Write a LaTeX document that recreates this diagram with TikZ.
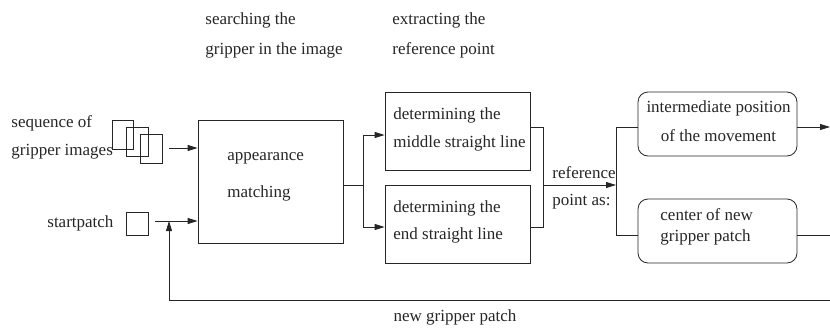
\documentclass[tikz,border=0pt]{standalone}
\usepackage{fontspec}
\setmainfont{Liberation Serif}
\usetikzlibrary{arrows.meta}
\begin{document}
\begin{tikzpicture}[x=1pt,y=-1pt,line width=0.8pt,draw=black!85,
  txt/.style={anchor=west,inner sep=0pt,font=\fontsize{17}{19}\selectfont,text=black!85},
  ctxt/.style={inner sep=0pt,font=\fontsize{17}{19}\selectfont,text=black!85},
  box/.style={draw,inner sep=0pt},
  rbox/.style={draw,inner sep=0pt,rounded corners=10pt},
  arr/.style={-{Triangle[length=10pt,width=6pt]}}]
\useasboundingbox (0,0) rectangle (830,327);

% headings
\node[txt] (h1a) at (205,20) {searching the};
\node[txt] (h1b) at (205,50) {gripper in the image};
\node[txt] (h2a) at (392,20) {extracting the};
\node[txt] (h2b) at (392,50) {reference point};

% inputs
\node[txt] (seqa) at (11,123) {sequence of};
\node[txt] (seqb) at (11,152) {gripper images};
\draw (112,120) rectangle (133,149);
\draw (126,127) rectangle (148,156);
\draw (140,134) rectangle (162,163);
\node[txt] (sp) at (47,223) {startpatch};
\draw (126,212) rectangle (148,235);

% boxes
\node[box,minimum width=145pt,minimum height=123pt] (am) at (270.5,181.5) {};
\node[txt] (ama) at (227,158) {appearance};
\node[txt] (amb) at (227,193) {matching};

\node[box,minimum width=145pt,minimum height=78pt] (mid) at (457.5,131) {};
\node[txt] (mida) at (393,115) {determining the};
\node[txt] (midb) at (393,143) {middle straight line};

\node[box,minimum width=145pt,minimum height=78pt] (end) at (457.5,224) {};
\node[txt] (enda) at (393,208) {determining the};
\node[txt] (endb) at (393,235) {end straight line};

\node[rbox,minimum width=159pt,minimum height=64pt] (ip) at (717.5,124) {};
\node[ctxt] (ipa) at (718.5,108) {intermediate position};
\node[ctxt] (ipb) at (718.5,136) {of the movement};

\node[rbox,minimum width=159pt,minimum height=64pt] (cn) at (717.5,231) {};
\node[txt] (cna) at (660,215) {center of new};
\node[txt] (cnb) at (660,237) {gripper patch};

\node[txt] (rpa) at (552,173) {reference};
\node[txt] (rpb) at (552,202) {point as:};

\node[ctxt] (ngp) at (455,317) {new gripper patch};

% coordinates
\coordinate (in1) at (169,148);
\coordinate (in2) at (155,221);
\coordinate (j1) at (363,185);
\coordinate (j1a) at (363,135);
\coordinate (j1b) at (363,227);
\coordinate (j2a) at (543,127);
\coordinate (j2b) at (543,227);
\coordinate (j2) at (543,185);
\coordinate (j3) at (616,185);
\coordinate (j3a) at (616,127);
\coordinate (j3b) at (616,235);
\coordinate (out1) at (830,127);
\coordinate (out2) at (834,235);
\coordinate (fb1) at (834,300);
\coordinate (fb2) at (169,300);
\coordinate (fb3) at (169,221);

% connectors
\draw[arr] (in1) -- (am.west |- in1);
\draw[arr] (in2) -- (am.west |- in2);
\draw (am.east |- j1) -- (j1);
\draw[arr] (j1) -- (j1a) -- (mid.west |- j1a);
\draw[arr] (j1) -- (j1b) -- (end.west |- j1b);
\draw (mid.east |- j2a) -- (j2a) -- (j2b) -- (end.east |- j2b);
\draw[arr] (j2) -- (j3);
\draw (ip.west |- j3a) -- (j3a) -- (j3b) -- (cn.west |- j3b);
\draw[arr] (ip.east |- out1) -- (out1);
\draw[arr] (cn.east |- out2) -- (out2) -- (fb1) -- (fb2) -- (fb3);
\end{tikzpicture}
\end{document}
